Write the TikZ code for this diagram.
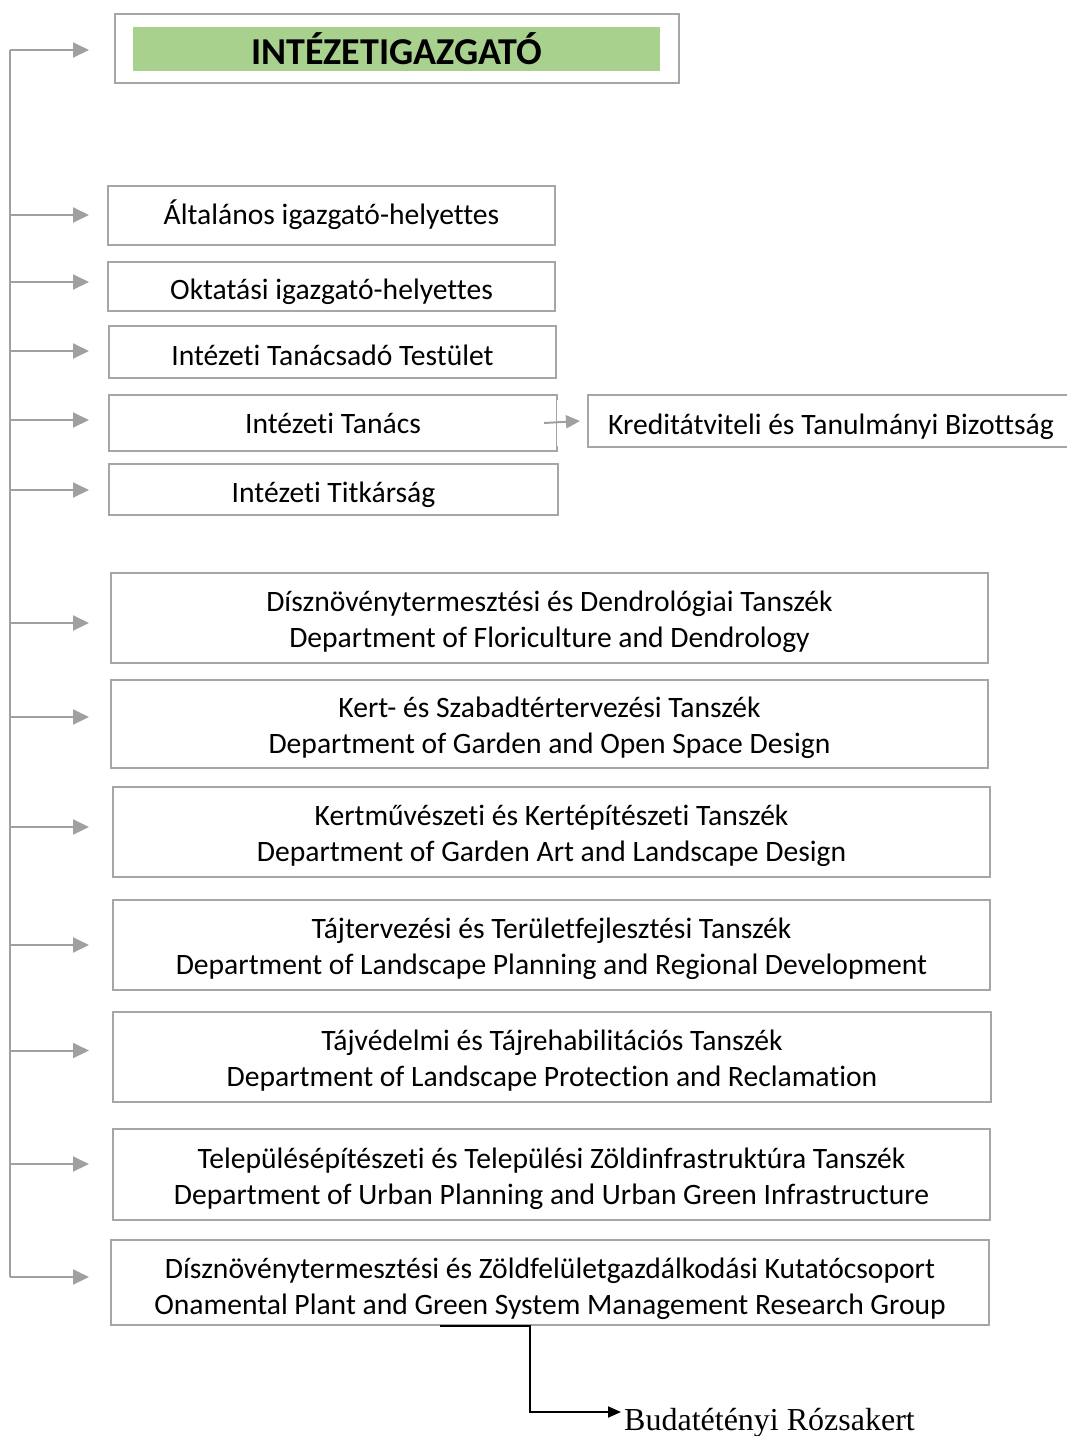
\documentclass[tikz,border=0pt]{standalone}
\usepackage{fontspec}
\setmainfont{Carlito}[Ligatures={NoCommon}]
\newfontfamily\rosefont{Liberation Serif}
\usetikzlibrary{arrows.meta}
\definecolor{boxgray}{HTML}{A6A6A6}
\definecolor{arrgray}{HTML}{A0A0A0}
\definecolor{titlegreen}{HTML}{A9D18E}
\tikzset{
  unitbox/.style={draw=boxgray, line width=2pt, inner sep=0pt, align=center,
    font=\fontsize{29.6}{36}\selectfont, text height=32pt, text depth=6pt},
  deptbox/.style={unitbox, minimum height=90, text height=65pt, text depth=6pt},
  trunkline/.style={draw=arrgray, line width=2pt},
  trunkarrow/.style={arrgray, line width=2pt, -{Triangle[length=16pt, width=15pt]}},
  roselink/.style={black, line width=2pt, -{Triangle[length=13pt, width=11pt]}}
}

\begin{document}
\begin{tikzpicture}[x=1pt, y=-1pt]
			%%%%% START %%%%%
			\useasboundingbox (0, 0) rectangle (1067, 1436);
			
			% director
			\node[unitbox, minimum width=564, minimum height=69] (igazgato) at (397, 48.5) {};
			\node[fill=titlegreen, minimum width=527, minimum height=44, inner sep=0pt,
				font=\fontsize{38}{40}\selectfont\bfseries] (igazgatotitle) at (396.5, 49) {INTÉZETIGAZGATÓ};
			
			% deputies and bodies
			\node[unitbox, minimum width=447, minimum height=59, text height=24pt] (altalanos) at (331.5, 215.5) {Általános igazgató-helyettes};
			\node[unitbox, minimum width=447, minimum height=49] (oktatasi) at (331.5, 286.5) {Oktatási igazgató-helyettes};
			\node[unitbox, minimum width=447, minimum height=52] (tanacsado) at (332.5, 352) {Intézeti Tanácsadó Testület};
			\node[unitbox, minimum width=448, minimum height=56, text height=26pt] (tanacs) at (333, 423) {Intézeti Tanács};
			\node[unitbox, minimum width=486, minimum height=52] (kredit) at (831, 421) {Kreditátviteli és Tanulmányi Bizottság};
			\node[unitbox, minimum width=449, minimum height=51] (titkarsag) at (333.5, 489.5) {Intézeti Titkárság};
			
			% departments
			\node[deptbox, minimum width=877] (dendro) at (549.5, 618) {Dísznövénytermesztési és Dendrológiai Tanszék\\Department of Floriculture and Dendrology};
			\node[deptbox, minimum width=877, minimum height=88] (kert) at (549.5, 724) {Kert- és Szabadtértervezési Tanszék\\Department of Garden and Open Space Design};
			\node[deptbox, minimum width=877] (kertmuv) at (551.5, 832) {Kertművészeti és Kertépítészeti Tanszék\\Department of Garden Art and Landscape Design};
			\node[deptbox, minimum width=877] (tajterv) at (551.5, 945) {Tájtervezési és Területfejlesztési Tanszék\\Department of Landscape Planning and Regional Development};
			\node[deptbox, minimum width=878] (tajved) at (552, 1057) {Tájvédelmi és Tájrehabilitációs Tanszék\\Department of Landscape Protection and Reclamation};
			\node[deptbox, minimum width=877, minimum height=91] (telepules) at (551.5, 1174.5) {Településépítészeti és Települési Zöldinfrastruktúra Tanszék\\Department of Urban Planning and Urban Green Infrastructure};
			\node[deptbox, minimum width=878, minimum height=85, text height=70pt] (kutato) at (550, 1282.5) {Dísznövénytermesztési és Zöldfelületgazdálkodási Kutatócsoport\\Onamental Plant and Green System Management Research Group};
			
			\node[anchor=west, inner sep=0pt, font=\rosefont\fontsize{32}{36}\selectfont] (rozsakert) at (624, 1423) {Budatétényi Rózsakert};
			
			% trunk and arrows
			\coordinate (trunktop) at (10, 50);
			\coordinate (trunkbot) at (10, 1277);
			\coordinate (tips) at (89, 0);
			\draw[trunkline] (trunktop) -- (trunkbot);
			\foreach \n/\dy in {igazgato/-1.5, altalanos/0.5, oktatasi/4.5, tanacsado/1, tanacs/3, titkarsag/-0.5,
				dendro/-5, kert/7, kertmuv/5, tajterv/0, tajved/6.5, telepules/10.5, kutato/5.5}
				\draw[trunkarrow] ([yshift=\dy]\n.west -| trunktop) -- ([yshift=\dy]\n.west -| tips);
			
			% gap in the right side of Intezeti Tanacs
			\draw[white, line width=3pt] ([yshift=-6]tanacs.north east) -- ([yshift=6]tanacs.south east);
			\draw[trunkarrow, -{Triangle[length=14pt, width=13pt]}] ([xshift=-14]tanacs.east) -- ([xshift=-7]kredit.west);
			
			\draw[roselink] ([xshift=-110]kutato.south) -- ++(90, 0) |- ([xshift=-3]rozsakert.west |- 0, 1412);
			%%%%% END %%%%%
\end{tikzpicture}
\end{document}
